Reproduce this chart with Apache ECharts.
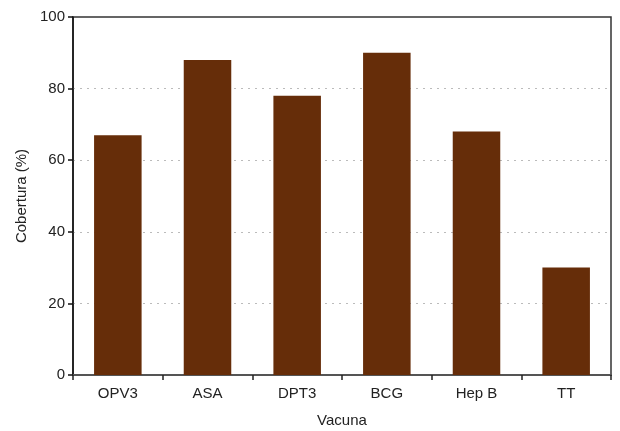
<!DOCTYPE html>
<html><head><meta charset="utf-8">
<script src="https://cdn.jsdelivr.net/npm/echarts@6/dist/echarts.min.js"></script>
<style>html,body{margin:0;padding:0;background:#fff}#c{width:620px;height:431px}</style>
</head><body><div id="c"></div>
<script>
const categories = ['OPV3', 'ASA', 'DPT3', 'BCG', 'Hep B', 'TT'];
const coverage = [67, 88, 78, 90, 68, 30];
const yTicks = [0, 20, 40, 60, 80, 100];

const chart = echarts.init(document.getElementById('c'), null, {renderer: 'canvas'});
const font = 'Liberation Sans, Arial, sans-serif';
chart.setOption({
  animation: false,
  grid: {left: 73, right: 9, top: 17, bottom: 56, outerBoundsMode: 'none', containLabel: false, show: true, borderColor: '#333', borderWidth: 1.5, backgroundColor: 'transparent'},
  xAxis: {
    type: 'category', data: categories,
    name: 'Vacuna', nameLocation: 'middle', nameGap: 38,
    nameTextStyle: {fontFamily: font, fontSize: 15, color: '#222'},
    axisLine: {lineStyle: {color: '#555', width: 2}},
    axisTick: {show: true, alignWithLabel: false, length: 5, lineStyle: {color: '#222', width: 1.5}},
    axisLabel: {fontFamily: font, fontSize: 15, color: '#222', margin: 11},
    splitLine: {show: false}
  },
  yAxis: {
    type: 'value', min: yTicks[0], max: yTicks[yTicks.length - 1], interval: 20,
    name: 'Cobertura (%)', nameLocation: 'middle', nameGap: 44,
    nameTextStyle: {fontFamily: font, fontSize: 15, color: '#222'},
    axisLine: {show: true, lineStyle: {color: '#111', width: 1.5}},
    axisTick: {show: true, length: 5, lineStyle: {color: '#111', width: 1.5}},
    axisLabel: {fontFamily: font, fontSize: 15, color: '#222', margin: 8},
    splitLine: {show: true, showMinLine: false, showMaxLine: false, lineStyle: {color: '#bbb', type: [2, 5], width: 1}}
  },
  series: [{
    type: 'bar', data: coverage, barWidth: '53%',
    itemStyle: {color: '#662D09'}
  }]
});
</script></body></html>
